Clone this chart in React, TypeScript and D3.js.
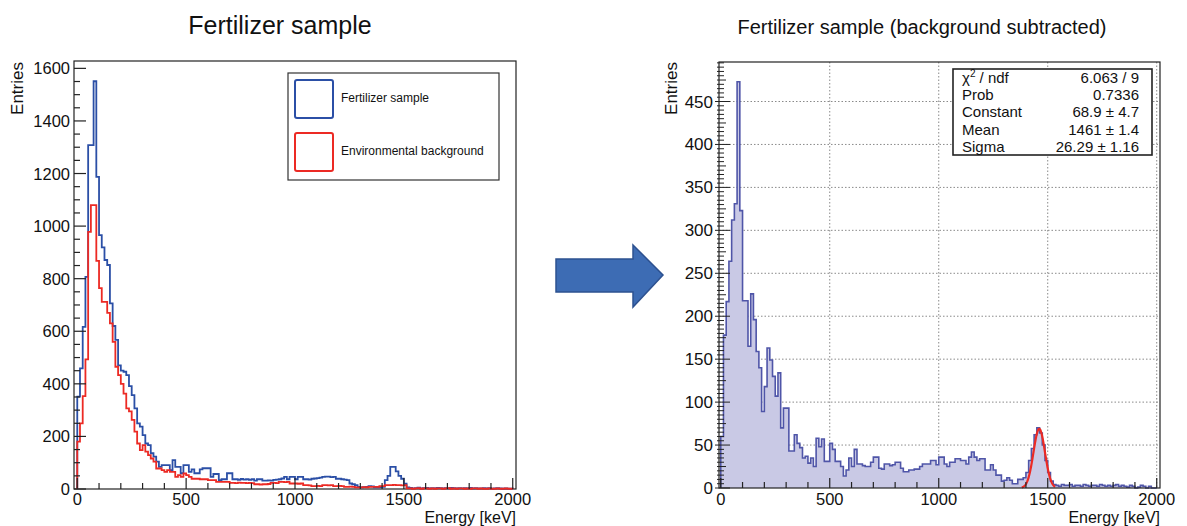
import React from 'react';
import * as d3 from 'd3';

// ---------- data (12.5 keV bins, 0–2000 keV) ----------
const BIN_WIDTH = 12.5;

const FERTILIZER = [
  351, 459, 617, 807, 1308, 1308, 1551, 1187, 966, 919,
  871, 852, 706, 620, 567, 470, 450, 446, 433, 391,
  357, 307, 250, 237, 205, 173, 167, 136, 123, 104,
  84, 91, 91, 91, 72, 110, 84, 84, 60, 91,
  91, 65, 75, 60, 60, 75, 79, 79, 79, 46,
  57, 57, 34, 37, 37, 60, 60, 37, 37, 35,
  38, 36, 37, 35, 37, 32, 37, 37, 32, 32,
  33, 32, 35, 36, 37, 40, 46, 37, 46, 46,
  37, 46, 46, 37, 37, 36, 39, 40, 41, 43,
  46, 47, 47, 45, 46, 39, 39, 37, 36, 34,
  21, 18, 15, 8, 6, 7, 8, 11, 10, 6,
  6, 7, 8, 34, 50, 84, 84, 67, 50, 39,
  20, 6, 4, 2, 3, 5, 2, 3, 4, 2,
  3, 2, 4, 3, 2, 3, 2, 4, 3, 2,
  3, 2, 3, 2, 4, 2, 3, 2, 2, 3,
  2, 3, 1, 2, 3, 2, 1, 2, 1, 1,
];

const BACKGROUND = [
  180, 250, 353, 493, 978, 1080, 1080, 868, 764, 712,
  712, 670, 630, 560, 465, 433, 400, 363, 307, 295,
  263, 218, 173, 148, 167, 142, 129, 116, 104, 78,
  78, 72, 65, 72, 65, 65, 46, 53, 46, 59,
  53, 46, 39, 39, 39, 37, 37, 37, 34, 34,
  34, 27, 27, 27, 27, 27, 23, 23, 22, 24,
  23, 23, 22, 23, 22, 18, 18, 17, 18, 18,
  19, 23, 23, 22, 27, 27, 26, 27, 21, 21,
  21, 20, 21, 15, 15, 14, 11, 11, 12, 11,
  15, 15, 14, 15, 11, 11, 12, 11, 8, 8,
  9, 8, 6, 6, 6, 7, 6, 8, 8, 8,
  8, 11, 11, 15, 15, 15, 16, 15, 15, 14,
  15, 2, 2, 1, 2, 3, 1, 2, 2, 1,
  2, 1, 2, 2, 1, 2, 3, 1, 2, 1,
  2, 2, 1, 2, 1, 2, 2, 1, 2, 1,
  1, 2, 1, 1, 2, 1, 1, 2, 1, 1,
];

const SUBTRACTED = [
  60, 178, 217, 264, 312, 331, 473, 323, 218, 218,
  165, 226, 196, 159, 140, 89, 118, 163, 149, 130,
  107, 134, 70, 93, 93, 43, 43, 62, 52, 47,
  35, 37, 29, 35, 25, 58, 48, 57, 31, 31,
  52, 45, 31, 31, 25, 14, 21, 35, 25, 45,
  28, 28, 26, 25, 25, 30, 36, 36, 23, 22,
  28, 28, 26, 27, 30, 30, 23, 19, 19, 21,
  21, 22, 22, 25, 28, 28, 28, 32, 32, 27,
  36, 36, 28, 25, 30, 30, 34, 34, 32, 32,
  28, 36, 42, 36, 32, 34, 34, 21, 21, 27,
  21, 15, 15, 8, 9, 12, 9, 5, 5, 10,
  10, 12, 18, 32, 46, 62, 70, 64, 50, 32,
  18, 8, 4, 3, 2, 4, 3, 3, 4, 2,
  3, 3, 2, 4, 3, 2, 3, 3, 2, 4,
  3, 2, 3, 2, 3, 4, 2, 3, 2, 1,
  3, 2, 0, 1, 3, 2, 0, 2, 0, 0,
];

const X_TICKS = [0, 500, 1000, 1500, 2000];
const LEFT_Y_TICKS = [0, 200, 400, 600, 800, 1000, 1200, 1400, 1600];
const RIGHT_Y_TICKS = [0, 50, 100, 150, 200, 250, 300, 350, 400, 450];

const FIT_CONSTANT = 68.9;
const FIT_MEAN = 1461;
const FIT_SIGMA = 26.29;
const FIT_RANGE = [1381, 1534];

const STATS_LABELS = ['Prob', 'Constant', 'Mean', 'Sigma'];
const STATS_VALUES = ['6.063 / 9', '0.7336', '68.9 \u00b1 4.7', '1461 \u00b1 1.4', '26.29 \u00b1 1.16'];
const LEGEND_LABELS = ['Fertilizer sample', 'Environmental background'];
const TITLES = ['Fertilizer sample', 'Fertilizer sample (background subtracted)'];

// ---------- styles ----------
const FONT = "'Liberation Sans', Arial, Helvetica, sans-serif";
const BLUE = '#2b4fa6';
const RED = '#ec2a24';
const FILL = '#c9c9e5';
const FILL_LINE = '#4f55a8';
const FRAME = '#222';

function T(props: any) {
  const { x, y, size, anchor = 'start', sx = 1, rotate = 0, children, fill = '#111' } = props;
  const tr = `translate(${x},${y})` + (rotate ? ` rotate(${rotate})` : '') + ` scale(${sx},1)`;
  return (
    <text transform={tr} textAnchor={anchor} fontSize={size} fontFamily={FONT} fill={fill}>
      {children}
    </text>
  );
}

function stepPath(values: number[], x: any, y: any, close = false) {
  const p = d3.path();
  p.moveTo(x(0), y(0));
  values.forEach((v, i) => {
    p.lineTo(x(i * BIN_WIDTH), y(v));
    p.lineTo(x((i + 1) * BIN_WIDTH), y(v));
  });
  p.lineTo(x(values.length * BIN_WIDTH), y(0));
  if (close) p.closePath();
  return p.toString();
}

function LeftPanel() {
  const L = 74, R = 516, Tp = 61, B = 489;
  const x = d3.scaleLinear().domain([-15, 2015]).range([L, R]);
  const y = d3.scaleLinear().domain([0, 1628]).range([B, Tp]);
  const xMinor = d3.range(0, 2001, 100);
  const yMinor = d3.range(0, 1601, 50);
  return (
    <g>
      <T x={280} y={34} size={25} anchor="middle">{TITLES[0]}</T>
      <rect x={L} y={Tp} width={R - L} height={B - Tp} fill="#fff" stroke={FRAME} strokeWidth={1.2} />
      <path d={stepPath(FERTILIZER, x, y)} fill="none" stroke={BLUE} strokeWidth={1.8} />
      <path d={stepPath(BACKGROUND, x, y)} fill="none" stroke={RED} strokeWidth={1.8} />
      {xMinor.map(v => (
        <line key={'xm' + v} x1={x(v)} x2={x(v)} y1={B} y2={B - (v % 500 === 0 ? 11 : 6)} stroke={FRAME} strokeWidth={1.2} />
      ))}
      {yMinor.map(v => (
        <line key={'ym' + v} x1={L} x2={L + (v % 200 === 0 ? 12 : 6)} y1={y(v)} y2={y(v)} stroke={FRAME} strokeWidth={1.2} />
      ))}
      {X_TICKS.map(v => (
        <T key={'xl' + v} x={x(v)} y={505} size={16.5} anchor="middle">{v}</T>
      ))}
      {LEFT_Y_TICKS.map(v => (
        <T key={'yl' + v} x={70} y={y(v) + 6} size={16.5} anchor="end">{v}</T>
      ))}
      <T x={23} y={62} size={17} rotate={-90} anchor="end">Entries</T>
      <T x={516} y={522.5} size={16} anchor="end">Energy [keV]</T>
      {/* legend */}
      <rect x={288} y={73} width={211} height={107} fill="#fff" stroke="#333" strokeWidth={1.2} />
      <rect x={295} y={80} width={38} height={38} rx={2} fill="none" stroke={BLUE} strokeWidth={2} />
      <rect x={295} y={133} width={38} height={38} rx={2} fill="none" stroke={RED} strokeWidth={2} />
      <T x={341} y={102} size={12}>{LEGEND_LABELS[0]}</T>
      <T x={341} y={155} size={12}>{LEGEND_LABELS[1]}</T>
    </g>
  );
}

function RightPanel() {
  const L = 719, R = 1160, Tp = 62, B = 488;
  const x = d3.scaleLinear().domain([-8, 2015]).range([L, R]);
  const y = d3.scaleLinear().domain([0, 496]).range([B, Tp]);
  const xMinor = d3.range(0, 2001, 100);
  const yMinor = d3.range(0, 496, 5);
  const fitPts = d3.range(FIT_RANGE[0], FIT_RANGE[1] + 0.01, 1).map(e => [
    e,
    FIT_CONSTANT * Math.exp(-((e - FIT_MEAN) ** 2) / (2 * FIT_SIGMA * FIT_SIGMA)),
  ]);
  const fitLine = d3.line<number[]>().x(d => x(d[0])).y(d => y(d[1])).curve(d3.curveLinear);
  const rowY = [83, 100.2, 117.4, 134.6, 151.8];
  return (
    <g>
      <T x={922} y={34} size={20} anchor="middle">{TITLES[1]}</T>
      <rect x={L} y={Tp} width={R - L} height={B - Tp} fill="#fff" />
      {/* grid */}
      {[500, 1000, 1500, 2000].map(v => (
        <line key={'gx' + v} x1={x(v)} x2={x(v)} y1={Tp} y2={B} stroke="#8a8a8a" strokeWidth={1} strokeDasharray="1.5 2" />
      ))}
      {RIGHT_Y_TICKS.filter(v => v > 0).map(v => (
        <line key={'gy' + v} x1={L} x2={R} y1={y(v)} y2={y(v)} stroke="#8a8a8a" strokeWidth={1} strokeDasharray="1.5 2" />
      ))}
      <path d={stepPath(SUBTRACTED, x, y, true)} fill={FILL} stroke="none" />
      <path d={stepPath(SUBTRACTED, x, y)} fill="none" stroke={FILL_LINE} strokeWidth={1.6} />
      <path d={fitLine(fitPts as any) || ''} fill="none" stroke={RED} strokeWidth={2.2} />
      <rect x={L} y={Tp} width={R - L} height={B - Tp} fill="none" stroke={FRAME} strokeWidth={1.2} />
      {xMinor.map(v => (
        <line key={'xm' + v} x1={x(v)} x2={x(v)} y1={B} y2={B - (v % 500 === 0 ? 10 : 6)} stroke={FRAME} strokeWidth={1.2} />
      ))}
      {yMinor.map(v => (
        <line key={'ym' + v} x1={L - (v % 50 === 0 ? 4 : 2)} x2={L + (v % 50 === 0 ? 11 : v % 25 === 0 ? 7 : 5)} y1={y(v)} y2={y(v)} stroke={FRAME} strokeWidth={1} />
      ))}
      {X_TICKS.map(v => (
        <T key={'xl' + v} x={x(v)} y={505} size={16.5} anchor="middle">{v}</T>
      ))}
      {RIGHT_Y_TICKS.map(v => (
        <T key={'yl' + v} x={713} y={y(v) + 6} size={17} anchor="end">{v}</T>
      ))}
      <T x={677} y={62} size={17} rotate={-90} anchor="end">Entries</T>
      <T x={1160} y={522.5} size={16} anchor="end">Energy [keV]</T>
      {/* stats box */}
      <rect x={953} y={69} width={199} height={86} fill="#fff" stroke="#222" strokeWidth={1.6} />
      <text x={962} y={rowY[0]} fontSize={15} fontFamily={FONT} fill="#111">
        {'\u03c7'}<tspan dy={-6} fontSize={10}>2</tspan><tspan dy={6}>{' / ndf'}</tspan>
      </text>
      {STATS_LABELS.map((s, i) => (
        <T key={'sl' + i} x={962} y={rowY[i + 1]} size={15}>{s}</T>
      ))}
      {STATS_VALUES.map((s, i) => (
        <T key={'sv' + i} x={1139} y={rowY[i]} size={15} anchor="end">{s}</T>
      ))}
    </g>
  );
}

function Arrow() {
  const pts: [number, number][] = [
    [556, 259], [633, 259], [633, 245], [663, 275], [633, 307], [633, 292], [556, 292],
  ];
  const line = d3.line().curve(d3.curveLinearClosed);
  return <path d={line(pts) || ''} fill="#3d6cb4" stroke="#2d5190" strokeWidth={1.5} />;
}

export default function App() {
  return (
    <svg width={1187} height={526} style={{ position: 'absolute', left: 0, top: 0, background: '#fff' }}>
      <rect x={0} y={0} width={1187} height={526} fill="#fff" />
      <LeftPanel />
      <Arrow />
      <RightPanel />
    </svg>
  );
}
